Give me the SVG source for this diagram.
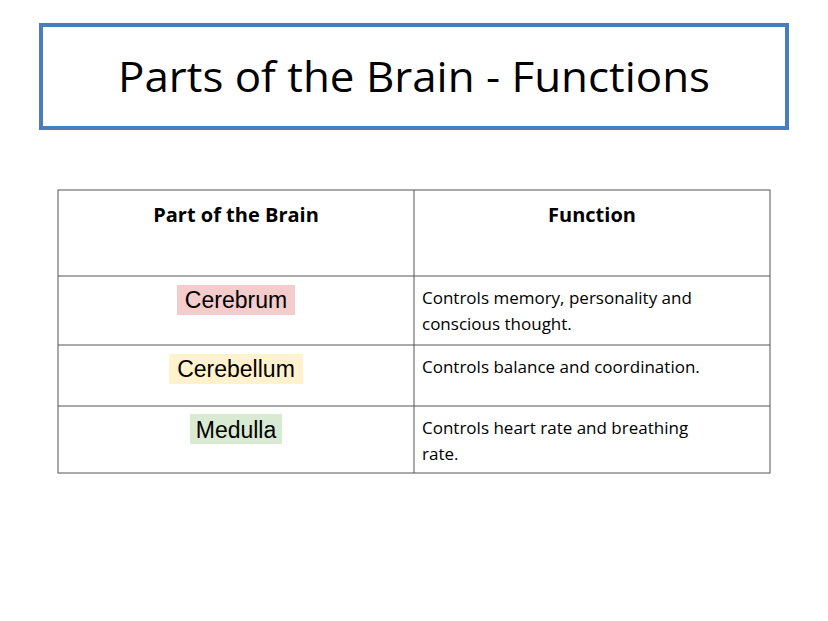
<svg xmlns="http://www.w3.org/2000/svg" width="828" height="621" viewBox="0 0 828 621">
<style>
.t{font-family:"Open Sans","Noto Sans",sans-serif;fill:#000}
.h{font-family:"Open Sans","Noto Sans",sans-serif;font-weight:bold;font-size:20px;text-anchor:middle}
.p{font-family:"Liberation Sans",Arial,sans-serif;font-size:23px;text-anchor:middle}
.f{font-family:"Open Sans","Noto Sans",sans-serif;font-size:17px}
.g{stroke:#555;stroke-width:1;fill:none}
</style>
<rect width="828" height="621" fill="#fff"/>
<g id="title">
<rect x="41" y="25" width="746" height="103" fill="#fff" stroke="#4a7ebb" stroke-width="4"/>
<text class="t" x="414" y="92" font-size="42" text-anchor="middle" textLength="592" lengthAdjust="spacingAndGlyphs">Parts of the Brain - Functions</text>
</g>
<g id="table">
<rect class="g" x="58" y="190" width="712" height="283"/>
<line class="g" x1="414" y1="190" x2="414" y2="473"/>
<line class="g" x1="58" y1="276" x2="770" y2="276"/>
<line class="g" x1="58" y1="345" x2="770" y2="345"/>
<line class="g" x1="58" y1="406" x2="770" y2="406"/>
<text class="h" x="236" y="222">Part of the Brain</text>
<text class="h" x="592" y="222">Function</text>
</g>
<g id="cerebrum">
<rect x="177" y="285" width="118" height="30" fill="#f4cccc"/>
<text class="p" x="236" y="308">Cerebrum</text>
<text class="f" x="422" y="304">Controls memory, personality and</text>
<text class="f" x="422" y="330">conscious thought.</text>
</g>
<g id="cerebellum">
<rect x="169" y="354" width="134" height="30" fill="#fff2cc"/>
<text class="p" x="236" y="377">Cerebellum</text>
<text class="f" x="422" y="373">Controls balance and coordination.</text>
</g>
<g id="medulla">
<rect x="190" y="414" width="92" height="30" fill="#d9ead3"/>
<text class="p" x="236" y="438">Medulla</text>
<text class="f" x="422" y="434">Controls heart rate and breathing</text>
<text class="f" x="422" y="460">rate.</text>
</g>
</svg>
